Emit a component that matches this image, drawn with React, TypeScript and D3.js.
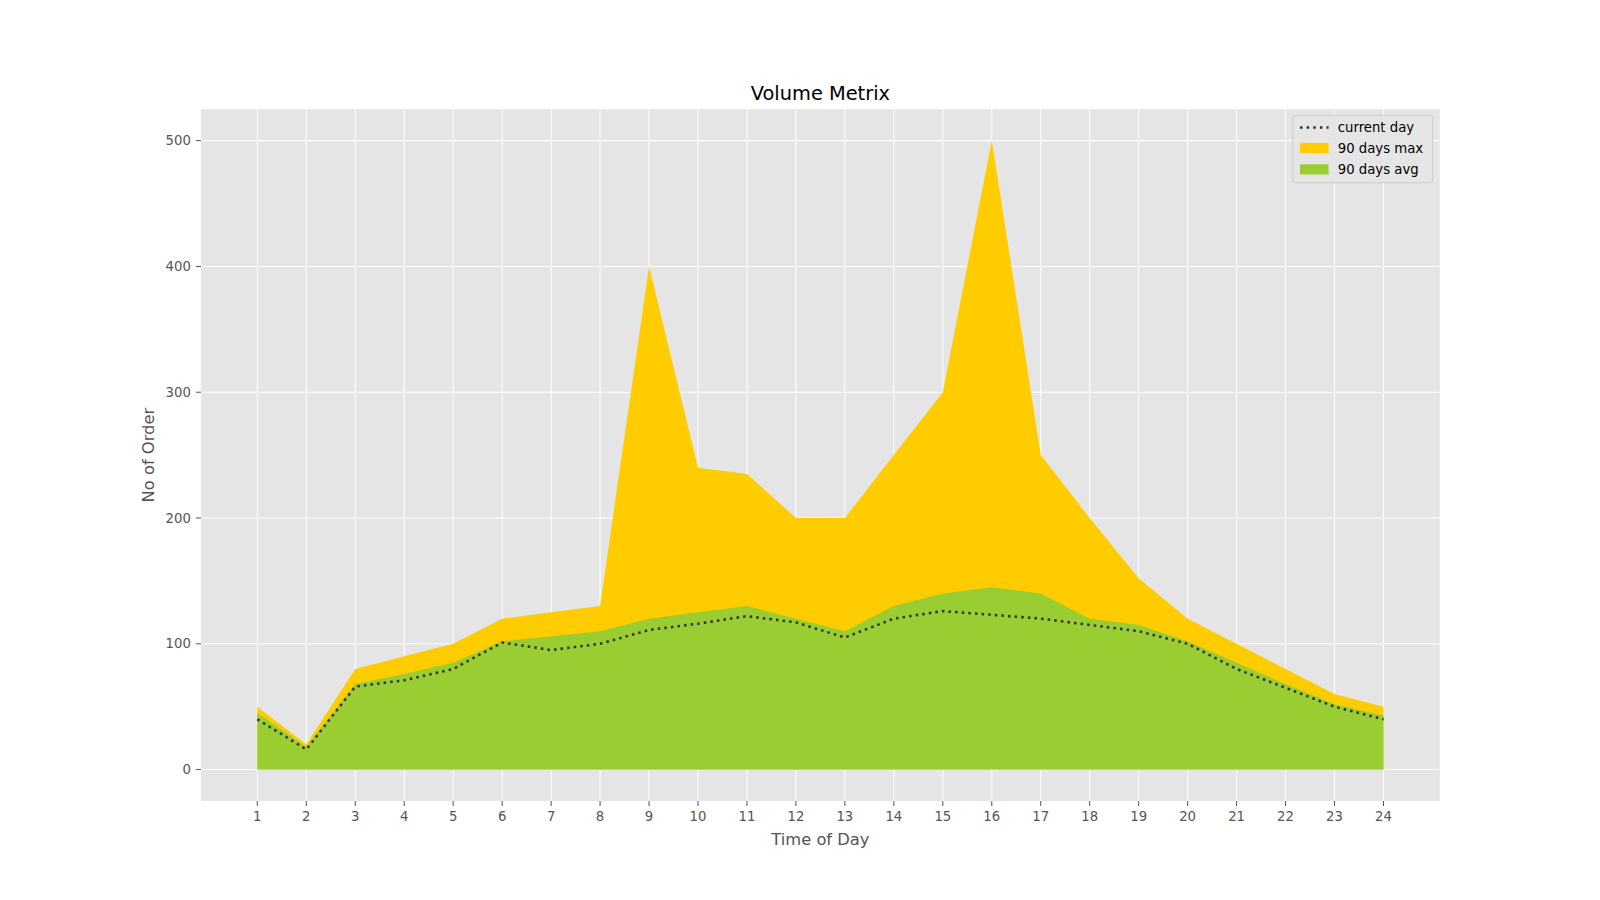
import * as d3 from 'd3';

const hours = d3.range(1, 25);
const maxVals = [50, 20, 80, 90, 100, 120, 125, 130, 400, 240, 235, 200, 200, 250, 300, 500, 250, 200, 152, 120, 100, 80, 60, 50];
const avgVals = [45, 18, 68, 76, 85, 102, 106, 110, 120, 125, 130, 120, 110, 130, 140, 145, 140, 120, 115, 102, 85, 68, 52, 43];
const curVals = [40, 16, 66, 71, 80, 101, 95, 100, 111, 116, 122, 117, 105, 120, 126, 123, 120, 115, 110, 100, 80, 65, 50, 40];
const yTicks = [0, 100, 200, 300, 400, 500];

const W = 1600, H = 900;
const S = 1600 / 1568;
const L = 197, R = 1411, T = 107, B = 785;
const font = 'DejaVu Sans, sans-serif';

export default function App() {
  const xs = d3.scaleLinear().domain([1 - 1.15, 24 + 1.15]).range([L, R]);
  const y = d3.scaleLinear().domain([-25, 525]).range([B, T]);
  const area = (vals: number[]) =>
    d3.area<number>().x((_, i) => xs(hours[i])).y0(y(0)).y1((v) => y(v))(vals) ?? '';
  const line = d3.line<number>().x((_, i) => xs(hours[i])).y((v) => y(v))(curVals) ?? '';

  return (
    <svg width={W} height={H} style={{ position: 'absolute', left: 0, top: 0, background: '#fff' }}>
      <g transform={`scale(${S})`}>
        <rect x={L} y={T} width={R - L} height={B - T} fill="#e5e5e5" />
        {hours.map((h) => (
          <line key={h} x1={xs(h)} x2={xs(h)} y1={T} y2={B} stroke="#fff" strokeWidth={1} />
        ))}
        {yTicks.map((t) => (
          <line key={t} x1={L} x2={R} y1={y(t)} y2={y(t)} stroke="#fff" strokeWidth={1} />
        ))}
        <path d={area(maxVals)} fill="#ffcc00" />
        <path d={area(avgVals)} fill="#9acd32" />
        <path d={line} fill="none" stroke="#333" strokeWidth={2.5} strokeDasharray="2.5,4" />
        {hours.map((h) => (
          <g key={h}>
            <line x1={xs(h)} x2={xs(h)} y1={B} y2={B + 5} stroke="#555" />
            <text x={xs(h)} y={B + 20} textAnchor="middle" fontSize={13} fill="#555" fontFamily={font}>{h}</text>
          </g>
        ))}
        {yTicks.map((t) => (
          <g key={t}>
            <line x1={L - 5} x2={L} y1={y(t)} y2={y(t)} stroke="#555" />
            <text x={L - 10} y={y(t) + 4.5} textAnchor="end" fontSize={13} fill="#555" fontFamily={font}>{t}</text>
          </g>
        ))}
        <text x={(L + R) / 2} y={98} textAnchor="middle" fontSize={19} fontFamily={font}>Volume Metrix</text>
        <text x={(L + R) / 2} y={828} textAnchor="middle" fontSize={16} fill="#555" fontFamily={font}>Time of Day</text>
        <text transform={`translate(151,${(T + B) / 2}) rotate(-90)`} textAnchor="middle" fontSize={16} fill="#555" fontFamily={font}>No of Order</text>
        <g transform="translate(1267,113)">
          <rect width={137} height={66} rx={3} fill="#e5e5e5" stroke="#ccc" opacity={0.9} />
          <line x1={7} x2={35} y1={12} y2={12} stroke="#333" strokeWidth={2.5} strokeDasharray="2.5,4" />
          <rect x={7} y={27} width={28} height={10} fill="#ffcc00" />
          <rect x={7} y={48} width={28} height={10} fill="#9acd32" />
          <text x={44} y={16} fontSize={13} fontFamily={font}>current day</text>
          <text x={44} y={37} fontSize={13} fontFamily={font}>90 days max</text>
          <text x={44} y={58} fontSize={13} fontFamily={font}>90 days avg</text>
        </g>
      </g>
    </svg>
  );
}
